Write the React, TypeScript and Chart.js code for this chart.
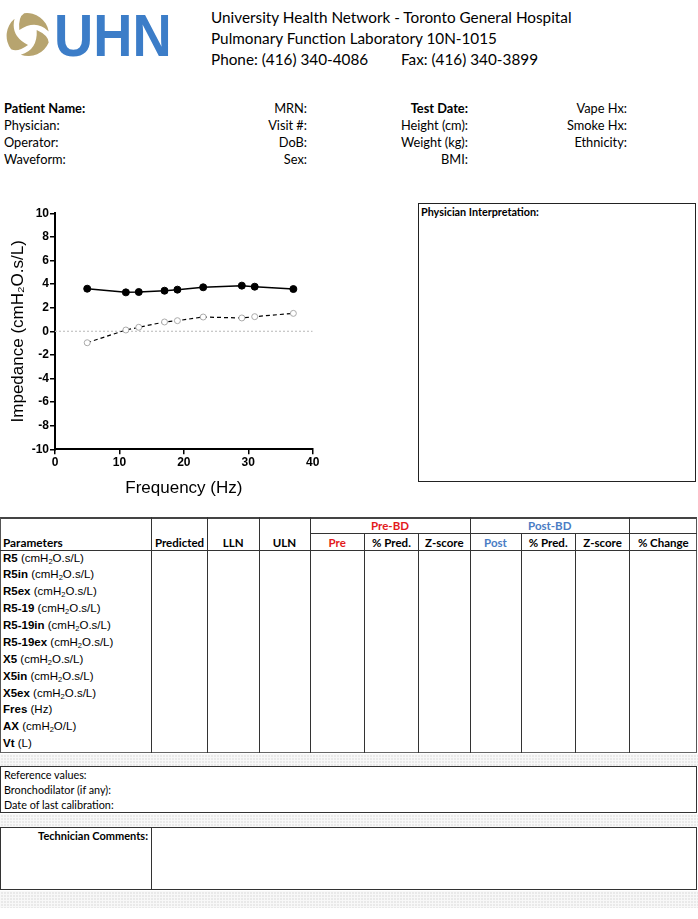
import React, { useEffect, useRef } from "react";
import { Chart, registerables } from "chart.js";

Chart.register(...registerables);

// ---- chart data ----
const frequencies = [5, 11, 13, 17, 19, 23, 29, 31, 37];
const resistance = [3.61, 3.3, 3.33, 3.44, 3.53, 3.73, 3.87, 3.78, 3.58];
const reactance = [-0.97, 0.11, 0.34, 0.79, 0.9, 1.21, 1.13, 1.24, 1.52];
const zeroLineX = [0, 40];
const zeroLineY = [0, 0];

// ---- report text ----
const headerLines = [
  "University Health Network - Toronto General Hospital",
  "Pulmonary Function Laboratory 10N-1015",
];
const phoneText = "Phone: (416) 340-4086";
const faxText = "Fax: (416) 340-3899";

const infoCol1 = ["Patient Name:", "Physician:", "Operator:", "Waveform:"];
const infoCol2 = ["MRN:", "Visit #:", "DoB:", "Sex:"];
const infoCol3 = ["Test Date:", "Height (cm):", "Weight (kg):", "BMI:"];
const infoCol4 = ["Vape Hx:", "Smoke Hx:", "Ethnicity:", ""];

const paramNames = ["R5", "R5in", "R5ex", "R5-19", "R5-19in", "R5-19ex", "X5", "X5in", "X5ex", "Fres", "AX", "Vt"];
const paramUnits = ["cmH2O.s/L", "cmH2O.s/L", "cmH2O.s/L", "cmH2O.s/L", "cmH2O.s/L", "cmH2O.s/L", "cmH2O.s/L", "cmH2O.s/L", "cmH2O.s/L", "Hz", "cmH2O/L", "L"];

const headerCols = ["Predicted", "LLN", "ULN", "Pre", "% Pred.", "Z-score", "Post", "% Pred.", "Z-score", "% Change"];
const footerLines = ["Reference values:", "Bronchodilator (if any):", "Date of last calibration:"];

const UI = "Lato, 'Noto Sans', sans-serif";
const ARIAL = "'Liberation Sans', Arial, sans-serif";
const RED = "#e3191c";
const BLUE = "#4a7cc4";

const colX = [0, 151.5, 207.5, 259, 310, 364.5, 418.5, 470, 521, 575.5, 629.5, 697];
const TABLE_TOP = 517;
const HEAD_MID = 533.5;
const HEAD_BOT = 550;
const TABLE_BOT = 752.5;

function Units({ u }: { u: string }) {
  const parts = u.split("H2O");
  if (parts.length === 1) return <span>({u})</span>;
  return (
    <span>
      ({parts[0]}H<sub style={{ fontSize: 7.5, verticalAlign: -2, lineHeight: 0 }}>2</sub>O{parts[1]})
    </span>
  );
}

function Strip({ top, height }: { top: number; height: number }) {
  return (
    <div
      style={{
        position: "absolute",
        left: 0,
        top,
        width: 698,
        height,
        backgroundColor: "#e9e9e9",
        backgroundImage:
          "linear-gradient(90deg, #f8f8f8 1px, transparent 1px), linear-gradient(#f8f8f8 1px, transparent 1px)",
        backgroundSize: "3px 3px",
      }}
    />
  );
}

function Logo() {
  const blade = "M -8.7,-5 Q -10,-18 -3.8,-21.7 A 22 22 0 0 1 20.7,-3.6 Q 8,-16 -8.7,-5 Z";
  return (
    <div style={{ position: "absolute", left: 0, top: 0, width: 200, height: 70 }}>
      <svg width="60" height="70" style={{ position: "absolute", left: 0, top: 0 }}>
        <g transform="translate(28,35)" fill="#b7a46f">
          {[0, 120, 240].map((a) => (
            <path key={a} d={blade} transform={`rotate(${a})`} />
          ))}
        </g>
      </svg>
      <div
        style={{
          position: "absolute",
          left: 54,
          top: 3,
          fontFamily: ARIAL,
          fontWeight: 900,
          fontSize: 59,
          lineHeight: "66px",
          color: "#3c7dc8",
          transform: "scaleX(0.92)",
          transformOrigin: "left top",
        }}
      >
        UHN
      </div>
    </div>
  );
}

export default function App() {
  const canvasRef = useRef<HTMLCanvasElement>(null);

  useEffect(() => {
    document.body.style.margin = "0";
    if (!canvasRef.current) return;
    const tickFont = { family: ARIAL, size: 12, weight: "bold" as const };
    const titleFont = { family: ARIAL, size: 17 };
    const chart = new Chart(canvasRef.current, {
      type: "line",
      data: {
        datasets: [
          {
            label: "R",
            data: frequencies.map((f, i) => ({ x: f, y: resistance[i] })),
            borderColor: "#000",
            borderWidth: 1.5,
            pointRadius: 3.5,
            pointBackgroundColor: "#000",
            pointBorderColor: "#000",
            pointBorderWidth: 1,
            order: 1,
          },
          {
            label: "X",
            data: frequencies.map((f, i) => ({ x: f, y: reactance[i] })),
            borderColor: "#000",
            borderWidth: 1.2,
            borderDash: [4, 3],
            pointRadius: 3,
            pointBackgroundColor: "#fff",
            pointBorderColor: "#aaaaaa",
            pointBorderWidth: 1,
            order: 2,
          },
          {
            label: "zero",
            data: zeroLineX.map((x, i) => ({ x, y: zeroLineY[i] })),
            borderColor: "#c4c4c4",
            borderWidth: 1.2,
            borderDash: [2, 2],
            pointRadius: 0,
            order: 3,
          },
        ],
      },
      options: {
        animation: false,
        responsive: false,
        layout: { padding: { top: 18.3, right: 17.3, left: 0, bottom: 0 } },
        plugins: { legend: { display: false }, tooltip: { enabled: false } },
        scales: {
          x: {
            type: "linear",
            min: 0,
            max: 40,
            afterFit: (s: any) => {
              s.height = 55.7;
            },
            ticks: { stepSize: 10, font: tickFont, color: "#000", padding: 1 },
            grid: { drawOnChartArea: false, drawTicks: true, tickLength: 5, color: "#000", lineWidth: 1.5 },
            border: { color: "#000", width: 2 },
            title: { display: true, text: "Frequency (Hz)", font: titleFont, color: "#000", padding: { top: 0, bottom: 6 } },
          },
          y: {
            type: "linear",
            min: -10,
            max: 10,
            afterFit: (s: any) => {
              s.width = 55;
            },
            ticks: { stepSize: 2, font: tickFont, color: "#000", padding: 1 },
            grid: { drawOnChartArea: false, drawTicks: true, tickLength: 5, color: "#000", lineWidth: 1.5 },
            border: { color: "#000", width: 2 },
            title: {
              display: true,
              text: "Impedance (cmH\u2082O.s/L)",
              font: titleFont,
              color: "#000",
              padding: { top: 8, bottom: 0 },
            },
          },
        },
      },
    });
    return () => chart.destroy();
  }, []);

  const txt = (extra: React.CSSProperties): React.CSSProperties => ({
    position: "absolute",
    whiteSpace: "nowrap",
    fontFamily: UI,
    color: "#000",
    ...extra,
  });

  const rowH = (TABLE_BOT - HEAD_BOT) / paramNames.length;

  const fullLines = [1, 2, 3, 4, 7, 10];
  const partLines = [5, 6, 8, 9];
  const INFO = 12.8;

  return (
    <div style={{ position: "absolute", left: 0, top: 0, width: 698, height: 919, background: "#fff", overflow: "hidden" }}>
      <Logo />
      {headerLines.map((t, i) => (
        <div key={t} style={txt({ left: 211, top: 7 + i * 21, fontSize: 15.3, lineHeight: "20px" })}>
          {t}
        </div>
      ))}
      <div style={txt({ left: 211, top: 49, fontSize: 15.3, lineHeight: "20px" })}>{phoneText}</div>
      <div style={txt({ left: 401, top: 49, fontSize: 15.3, lineHeight: "20px" })}>{faxText}</div>

      {infoCol1.map((t, i) => (
        <div key={"a" + i} style={txt({ left: 4, top: 99.5 + i * 17.3, fontSize: INFO, lineHeight: "17px", fontWeight: i === 0 ? 700 : 400 })}>
          {t}
        </div>
      ))}
      {infoCol2.map((t, i) => (
        <div key={"b" + i} style={txt({ right: 698 - 307, top: 99.5 + i * 17.3, fontSize: INFO, lineHeight: "17px", textAlign: "right" })}>
          {t}
        </div>
      ))}
      {infoCol3.map((t, i) => (
        <div key={"c" + i} style={txt({ right: 698 - 468, top: 99.5 + i * 17.3, fontSize: INFO, lineHeight: "17px", textAlign: "right", fontWeight: i === 0 ? 700 : 400 })}>
          {t}
        </div>
      ))}
      {infoCol4.map((t, i) => (
        <div key={"d" + i} style={txt({ right: 698 - 627, top: 99.5 + i * 17.3, fontSize: INFO, lineHeight: "17px", textAlign: "right" })}>
          {t}
        </div>
      ))}

      <div style={{ position: "absolute", left: 0, top: 195, width: 330, height: 310 }}>
        <canvas ref={canvasRef} width={330} height={310} style={{ display: "block" }} />
      </div>

      <div style={{ position: "absolute", left: 418, top: 203, width: 278, height: 279, border: "1px solid #222", boxSizing: "border-box" }} />
      <div style={txt({ left: 421, top: 205, fontSize: 10.8, lineHeight: "14px", fontWeight: 700 })}>Physician Interpretation:</div>

      {/* table */}
      <div
        style={{
          position: "absolute",
          left: 0,
          top: TABLE_TOP,
          width: 697,
          height: TABLE_BOT - TABLE_TOP,
          borderTop: "2px solid #444",
          borderLeft: "1.5px solid #555",
          borderRight: "1.5px solid #555",
          borderBottom: "1.5px solid #666",
          boxSizing: "border-box",
        }}
      />
      {fullLines.map((c) => (
        <div key={"v" + c} style={{ position: "absolute", left: colX[c] - 0.5, top: TABLE_TOP, width: 1, height: TABLE_BOT - TABLE_TOP, background: "#333" }} />
      ))}
      {partLines.map((c) => (
        <div key={"p" + c} style={{ position: "absolute", left: colX[c] - 0.5, top: HEAD_MID, width: 1, height: TABLE_BOT - HEAD_MID, background: "#333" }} />
      ))}
      <div style={{ position: "absolute", left: colX[4], top: HEAD_MID - 0.5, width: 697 - colX[4], height: 1, background: "#333" }} />
      <div style={{ position: "absolute", left: 0, top: HEAD_BOT - 0.5, width: 697, height: 1, background: "#333" }} />

      <div style={txt({ left: colX[4], width: colX[7] - colX[4], top: TABLE_TOP + 1, fontSize: 11.5, lineHeight: "15px", fontWeight: 700, color: RED, textAlign: "center" })}>Pre-BD</div>
      <div style={txt({ left: colX[7], width: colX[10] - colX[7], top: TABLE_TOP + 1, fontSize: 11.5, lineHeight: "15px", fontWeight: 700, color: BLUE, textAlign: "center" })}>Post-BD</div>
      <div style={txt({ left: 3, top: HEAD_MID + 1, fontSize: 11.8, lineHeight: "15px", fontWeight: 700 })}>Parameters</div>
      {headerCols.map((h, i) => (
        <div
          key={"h" + i}
          style={txt({
            left: colX[i + 1],
            width: colX[i + 2] - colX[i + 1],
            top: HEAD_MID + 1,
            fontSize: 11.5,
            lineHeight: "15px",
            fontWeight: 700,
            textAlign: "center",
            color: h === "Pre" ? RED : h === "Post" ? BLUE : "#000",
          })}
        >
          {h}
        </div>
      ))}
      {paramNames.map((n, i) => (
        <div key={"r" + i} style={txt({ left: 3, top: HEAD_BOT + i * rowH + 0.5, fontSize: 11.5, lineHeight: "15px", fontFamily: ARIAL })}>
          <b>{n}</b> <Units u={paramUnits[i]} />
        </div>
      ))}

      <Strip top={754} height={12} />
      <div style={{ position: "absolute", left: 0, top: 766, width: 697, height: 47, border: "1.5px solid #333", boxSizing: "border-box" }} />
      {footerLines.map((t, i) => (
        <div key={"f" + i} style={txt({ left: 4, top: 767.5 + i * 15, fontSize: 10.8, lineHeight: "14px" })}>
          {t}
        </div>
      ))}

      <Strip top={814} height={13} />
      <div style={{ position: "absolute", left: 0, top: 827, width: 697, height: 63, border: "1.5px solid #333", boxSizing: "border-box" }} />
      <div style={{ position: "absolute", left: 151, top: 827, width: 1, height: 63, background: "#333" }} />
      <div style={txt({ right: 698 - 148, top: 829, fontSize: 11, lineHeight: "14px", fontWeight: 700, textAlign: "right" })}>Technician Comments:</div>
      <Strip top={891} height={17} />
    </div>
  );
}
